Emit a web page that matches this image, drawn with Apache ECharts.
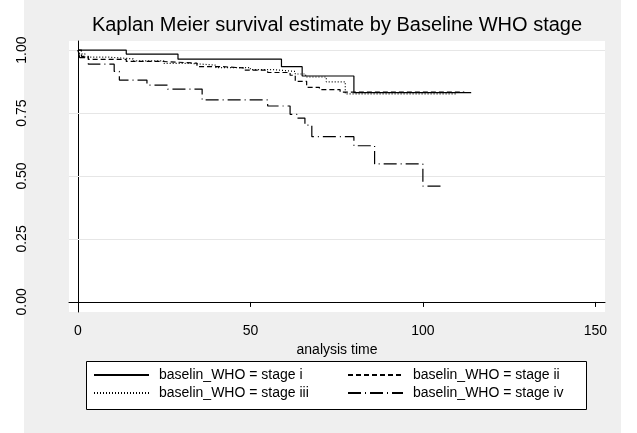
<!DOCTYPE html>
<html>
<head>
<meta charset="utf-8">
<script src="https://cdn.jsdelivr.net/npm/echarts@6/dist/echarts.min.js"></script>
<style>
  html, body { margin: 0; padding: 0; background: #fff; }
  #chart { width: 637px; height: 433px; }
</style>
</head>
<body>
<div id="chart"></div>
<script>
// Kaplan-Meier estimates (time, survival after each step)
const stage1Time = [0, 14, 29, 59, 65, 80, 114];
const stage1Surv = [1, 0.984, 0.964, 0.934, 0.897, 0.831, 0.831];

const stage2Time = [0, 1, 3, 14, 24, 34.5, 42, 48, 55, 61.5, 63, 66.3, 70, 76, 112];
const stage2Surv = [1, 0.975, 0.963, 0.955, 0.948, 0.934, 0.929, 0.92, 0.911, 0.9, 0.876, 0.852, 0.843, 0.833, 0.833];

const stage3Time = [0, 0.5, 2, 9, 16, 25, 33, 40, 50, 57, 63, 66, 72, 77.5, 110];
const stage3Surv = [1, 0.985, 0.972, 0.965, 0.957, 0.947, 0.94, 0.93, 0.922, 0.915, 0.905, 0.893, 0.874, 0.826, 0.826];

const stage4Time = [0, 0.5, 3, 10.5, 12, 20, 26, 36, 55, 61.5, 63.5, 65.8, 67.8, 80, 86, 100, 106];
const stage4Surv = [1, 0.97, 0.944, 0.915, 0.881, 0.861, 0.845, 0.802, 0.778, 0.745, 0.73, 0.702, 0.656, 0.62, 0.548, 0.46, 0.46];

const seriesNames = [
  "baselin_WHO = stage i",
  "baselin_WHO = stage ii",
  "baselin_WHO = stage iii",
  "baselin_WHO = stage iv",
];

const xTicks = [0, 50, 100, 150];
const yTicks = [0, 0.25, 0.5, 0.75, 1];
const yGridLines = [0.25, 0.5, 0.75, 1];

const FONT = "'Liberation Sans', Arial, sans-serif";

const zip = (xs, ys) => xs.map((x, i) => [x, ys[i]]);

const makeSeries = (name, time, surv, dash, withGrid) => {
  const s = {
    name: name,
    type: "line",
    step: "end",
    data: zip(time, surv),
    showSymbol: false,
    symbol: "none",
    color: "#000",
    lineStyle: { color: "#000", width: 1.2, type: dash },
    z: 3,
  };
  if (withGrid) {
    // light horizontal gridlines at the labelled values
    s.markLine = {
      silent: true,
      symbol: "none",
      label: { show: false },
      lineStyle: { color: "#e6e6e6", width: 1, type: "solid" },
      data: yGridLines.map((v) => ({ yAxis: v })),
      z: 1,
    };
  }
  return s;
};

const legendBase = {
  orient: "vertical",
  top: 368,
  padding: 0,
  itemWidth: 55,
  itemHeight: 14,
  itemGap: 4,
  selectedMode: false,
  itemStyle: { opacity: 0 },
  textStyle: { fontFamily: FONT, fontSize: 14, color: "#000", padding: [0, 0, 0, 5] },
};

const chart = echarts.init(document.getElementById("chart"));

chart.setOption({
  animation: false,
  backgroundColor: "transparent",
  graphic: [
    {
      type: "rect",
      z: -10,
      silent: true,
      shape: { x: 24, y: 0, width: 597, height: 433 },
      style: { fill: "#efefef" },
    },
    {
      type: "rect",
      z: 1,
      silent: true,
      shape: { x: 86.5, y: 361.5, width: 500, height: 48 },
      style: { fill: "#fff", stroke: "#000", lineWidth: 1 },
    },
  ],
  title: {
    text: "Kaplan Meier survival estimate by Baseline WHO stage",
    left: 337,
    top: 15,
    padding: 0,
    textAlign: "center",
    textStyle: { fontFamily: FONT, fontSize: 20, fontWeight: "normal", color: "#000" },
  },
  legend: [
    Object.assign({}, legendBase, { left: 93, data: [seriesNames[0], seriesNames[2]] }),
    Object.assign({}, legendBase, { left: 347, data: [seriesNames[1], seriesNames[3]] }),
  ],
  grid: {
    left: 69,
    right: 32,
    top: 41,
    bottom: 121,
    show: true,
    backgroundColor: "#fff",
    borderWidth: 0,
  },
  xAxis: {
    type: "value",
    min: -2.6,
    max: 152.8,
    name: "analysis time",
    nameLocation: "middle",
    nameGap: 24,
    nameTextStyle: { fontFamily: FONT, fontSize: 14, color: "#000" },
    axisLine: { show: true, lineStyle: { color: "#000", width: 1 } },
    axisTick: { show: true, length: 5, customValues: xTicks, lineStyle: { color: "#000" } },
    axisLabel: { customValues: xTicks, margin: 12, fontFamily: FONT, fontSize: 14, color: "#000" },
    splitLine: { show: false },
  },
  yAxis: {
    type: "value",
    min: -0.04,
    max: 1.036,
    axisLine: { show: true, lineStyle: { color: "#000", width: 1 } },
    axisTick: { show: true, length: 6, customValues: yTicks, lineStyle: { color: "#000" } },
    axisLabel: {
      customValues: yTicks,
      rotate: 90,
      margin: 40,
      fontFamily: FONT,
      fontSize: 14,
      color: "#000",
      formatter: (v) => v.toFixed(2),
    },
    splitLine: { show: false },
  },
  series: [
    makeSeries(seriesNames[0], stage1Time, stage1Surv, "solid", true),
    makeSeries(seriesNames[1], stage2Time, stage2Surv, [5, 3], false),
    makeSeries(seriesNames[2], stage3Time, stage3Surv, [1, 2], false),
    makeSeries(seriesNames[3], stage4Time, stage4Surv, [13, 4, 1, 4], false),
  ],
});
</script>
</body>
</html>
